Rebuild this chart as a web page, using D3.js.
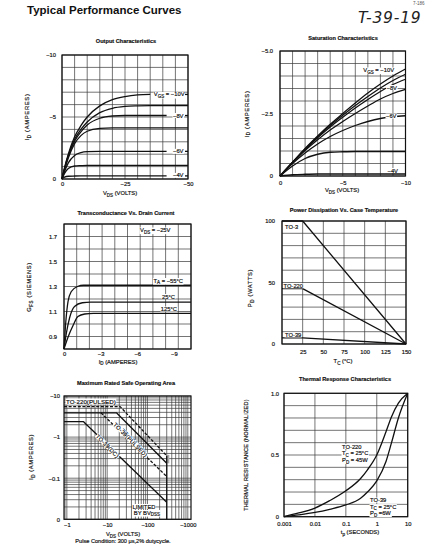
<!DOCTYPE html>
<html><head><meta charset="utf-8">
<script src="https://cdn.jsdelivr.net/npm/d3@7"></script>
<style>body{margin:0;background:#fff}svg{display:block}text{stroke:#111;stroke-width:0.18px}</style>
</head><body><svg id="c" width="432" height="555"></svg>
<script>
// ---------------- DATA ----------------
// Output characteristics (VDS in volts, negative)
const outVds   = [0, -1, -2.5, -5, -7.5, -10, -15, -20, -25, -30, -35, -41.5, -50];
const outVgs10 = [0, -0.9, -2.0, -3.4, -4.3, -5.0, -5.9, -6.4, -6.65, -6.78, -6.82, null, null];
const outVgs9  = [0, -0.85, -1.9, -3.2, -4.0, -4.6, -5.35, -5.7, -5.85, -5.9, -5.92, -5.92, -5.92];
const outVgs8  = [0, -0.8, -1.85, -3.05, -3.8, -4.35, -4.9, -5.08, -5.12, -5.12, -5.12, -5.12, null];
const outVgs7  = [0, -0.75, -1.7, -2.85, -3.5, -3.85, -4.08, -4.12, -4.12, -4.12, -4.12, -4.12, -4.12];
const outVgs6  = [0, -0.6, -1.3, -1.9, -2.12, -2.2, -2.23, -2.23, -2.23, -2.23, -2.23, -2.23, null];
const outVgs5  = [0, -0.45, -0.85, -1.05, -1.08, -1.1, -1.1, -1.1, -1.1, -1.1, -1.1, -1.1, -1.1];
const outVgs4  = [0, -0.15, -0.22, -0.24, -0.25, -0.25, -0.25, -0.25, -0.25, -0.25, -0.25, -0.25, null];
const outXTicks = [0, -25, -50];
const outYTicks = [0, -5, -10];
// Saturation characteristics
const satVds   = [0, -1, -2, -3, -4, -5, -6, -7, -8, -9, -10];
const satVgs10 = [0, -0.55, -1.1, -1.6, -2.07, -2.5, -2.92, -3.32, -3.68, -4.0, -4.28];
const satVgs9  = [0, -0.55, -1.08, -1.57, -2.02, -2.43, -2.82, -3.18, -3.52, -3.82, -4.07];
const satVgs8  = [0, -0.55, -1.06, -1.53, -1.96, -2.35, -2.72, -3.06, -3.38, -3.66, -3.87];
const satVgs7  = [0, -0.53, -1.02, -1.45, -1.84, -2.18, -2.5, -2.8, -3.08, -3.3, -3.47];
const satVgs6  = [0, -0.5, -0.92, -1.28, -1.58, -1.82, -2.02, -2.18, -2.3, -2.37, -2.41];
const satVgs5  = [0, -0.4, -0.7, -0.87, -0.95, -0.97, -0.98, -0.98, -0.98, -0.98, -0.98];
const satVgs4  = [0, -0.05, -0.07, -0.08, -0.08, -0.08, -0.08, -0.08, -0.08, -0.08, -0.08];
const satXTicks = [0, -5, -10];
const satYTicks = [0, -2.5, -5.0];
// Transconductance vs drain current (ID negative)
const gfsId55  = [0, -0.15, -0.33, -0.6, -1.1, -1.6, -10.4];
const gfs55    = [0.8, 1.02, 1.18, 1.26, 1.3, 1.31, 1.31];
const gfsId25  = [0, -0.2, -0.46, -0.86, -1.5, -2.2, -10.4];
const gfs25    = [0.8, 0.93, 1.05, 1.14, 1.17, 1.175, 1.175];
const gfsId125 = [0, -0.35, -0.75, -1.14, -1.7, -2.4, -10.4];
const gfs125   = [0.8, 0.9, 0.99, 1.06, 1.08, 1.085, 1.085];
const gfsXTicks = [0, -3, -6, -9];
const gfsYTicks = [0.9, 1.1, 1.3, 1.5, 1.7];
// Power dissipation vs case temperature
const pdTc    = [0, 25, 150];
const pdTo3   = [100, 100, 0];
const pdTo220 = [45, 45, 0];
const pdTo39  = [5, 5, 0];
const pdXTicks = [25, 50, 75, 100, 125, 150];
const pdYTicks = [0, 50, 100];
// Safe operating area (magnitudes, log axes)
const soaV220P = [0.85, 21, 300];  const soaI220P = [5.5, 5.5, 0.35];
const soaV220D = [0.85, 17, 300];  const soaI220D = [3.9, 3.9, 0.23];
const soaV39P  = [7, 300];         const soaI39P  = [3.9, 0.11];
const soaV39D  = [0.85, 2.6, 300]; const soaI39D  = [2.37, 2.37, 0.026];
const soaVbv   = [300, 300];       const soaIbv   = [0.01, 0.35];
const soaXTicks = [1, 10, 100, 1000];
const soaXLabels = ["\u22121", "\u221210", "\u2212100", "\u22121000"];
const soaYTicks = [0.01, 0.1, 1, 10];
const soaYLabels = ["0", "\u22120.1", "\u22121", "\u221210"];
// Thermal response
const thT     = [0.001, 0.003, 0.01, 0.03, 0.1, 0.3, 0.5, 1, 2, 3, 5, 10];
const thTo220 = [0, 0.03, 0.07, 0.13, 0.21, 0.31, 0.38, 0.5, 0.69, 0.81, 0.92, 1.0];
const thTo39  = [0, 0.015, 0.035, 0.06, 0.095, 0.15, 0.2, 0.29, 0.45, 0.6, 0.8, 1.0];
const thXTicks = [0.001, 0.01, 0.1, 1, 10];
const thXLabels = ["0.001", "0.01", "0.1", "1", "10"];
const thYTicks = [0, 0.5, 1.0];
const thYLabels = ["0", "0.5", "1.0"];

// ---------------- HELPERS ----------------
const FONT = '"Liberation Sans", Arial, Helvetica, sans-serif';
const INK = "#111";
const svg = d3.select("#c").style("font-family", FONT);
const negf = d => d === 0 ? "0" : "\u2212" + Math.abs(d);

function rich(g, x, y, s, o = {}) {
  const size = o.size || 5.8;
  const t = g.append("text").attr("x", x).attr("y", y).attr("font-size", size)
    .attr("text-anchor", o.anchor || "start").attr("font-weight", o.weight || "normal")
    .attr("fill", o.fill || INK).attr("font-family", o.family || FONT);
  if (o.rotate != null) t.attr("transform", `rotate(${o.rotate},${x},${y})`);
  if (o.ls != null) t.attr("letter-spacing", o.ls);
  if (o.style) t.attr("font-style", o.style);
  if (o.nostroke) t.style("stroke", "none");
  const tokens = s.split(/(_\{[^}]*\})/).filter(d => d.length);
  let pending = 0;
  tokens.forEach(tok => {
    const sub = tok.startsWith("_{");
    const str = sub ? tok.slice(2, -1) : tok;
    const sp = t.append("tspan").text(str);
    if (sub) { sp.attr("font-size", size * 0.78).attr("dy", pending + size * 0.28); pending = -size * 0.28; }
    else { if (pending) sp.attr("dy", pending); pending = 0; }
  });
  if (o.bg) {
    const b = t.node().getBBox();
    g.insert("rect", () => t.node()).attr("x", b.x - 0.5).attr("y", b.y + 0.5)
      .attr("width", b.width + 1).attr("height", b.height - 1).attr("fill", "#fff")
      .attr("transform", o.rotate != null ? `rotate(${o.rotate},${x},${y})` : null);
  }
  return t;
}

function frame(xs, ys, xg, yg) {
  const g = svg.append("g");
  const [x0, x1] = xs.range(), [y1, y0] = ys.range();
  g.append("g").selectAll("line").data(xg).join("line")
    .attr("x1", d => xs(d)).attr("x2", d => xs(d)).attr("y1", y0).attr("y2", y1)
    .attr("stroke", "#3a3a3a").attr("stroke-width", 0.7);
  g.append("g").selectAll("line").data(yg).join("line")
    .attr("y1", d => ys(d)).attr("y2", d => ys(d)).attr("x1", x0).attr("x2", x1)
    .attr("stroke", "#3a3a3a").attr("stroke-width", 0.7);
  g.append("rect").attr("x", x0).attr("y", y0).attr("width", x1 - x0).attr("height", y1 - y0)
    .attr("fill", "none").attr("stroke", INK).attr("stroke-width", 1.2);
  return g;
}

function axes(g, xs, ys, xt, xf, xp, yt, yf, yp) {
  const [x0] = xs.range(), [y1] = ys.range();
  const ax = g.append("g").attr("transform", `translate(0,${y1})`)
    .call(d3.axisBottom(xs).tickValues(xt).tickFormat(xf).tickSize(0).tickPadding(xp));
  const ay = g.append("g").attr("transform", `translate(${x0},0)`)
    .call(d3.axisLeft(ys).tickValues(yt).tickFormat(yf).tickSize(0).tickPadding(yp));
  [ax, ay].forEach(a => {
    a.select(".domain").remove();
    a.attr("font-size", 5.8).attr("font-family", FONT);
    a.selectAll("text").attr("fill", INK);
  });
}

function curve(g, xs, ys, xv, yv, o = {}) {
  const pts = xv.map((x, i) => [x, yv[i]]);
  const line = d3.line().defined(d => d[1] != null).x(d => xs(d[0])).y(d => ys(d[1]))
    .curve(o.straight ? d3.curveLinear : d3.curveMonotoneX);
  g.append("path").attr("d", line(pts)).attr("fill", "none").attr("stroke", INK)
    .attr("stroke-width", o.w || 1.3).attr("stroke-dasharray", o.dash || null)
    .attr("stroke-linejoin", "round");
}

function logGrid(lo, hi) {
  const v = [];
  for (let e = Math.floor(Math.log10(lo)); e <= Math.ceil(Math.log10(hi)); e++)
    for (let k = 1; k < 10; k++) { const x = k * Math.pow(10, e); if (x >= lo * 0.999 && x <= hi * 1.001) v.push(x); }
  return v;
}
function bar(g, xa, xb, y) {
  g.append("line").attr("x1", xa).attr("x2", xb).attr("y1", y).attr("y2", y).attr("stroke", INK).attr("stroke-width", 1.3);
}

// ---------------- HEADER ----------------
rich(svg, 27, 13.5, "Typical Performance Curves", { size: 11.5, weight: "bold", nostroke: true });
rich(svg, 358, 23, "T-39-19", { size: 15.5, ls: 0.8, fill: "#222", style: "italic", nostroke: true, family: '"DejaVu Sans", sans-serif' });
rich(svg, 413, 4.5, "7-186", { size: 4.5, fill: "#555", nostroke: true });

// ---------------- 1. OUTPUT CHARACTERISTICS ----------------
{
  const xs = d3.scaleLinear([0, -50], [62, 188]);
  const ys = d3.scaleLinear([0, -10], [179, 55]);
  const g = frame(xs, ys, d3.range(0, -50.1, -5), d3.range(0, -10.1, -1));
  [outVgs10, outVgs9, outVgs8, outVgs7, outVgs6, outVgs5, outVgs4].forEach(s => curve(g, xs, ys, outVds, s));
  axes(g, xs, ys, outXTicks, negf, 3, outYTicks, negf, 6);
  rich(g, 126, 43, "Output Characteristics", { size: 5.6, weight: "bold", anchor: "middle" });
  rich(g, 184.5, ys(-6.82) + 2, "V_{GS} = \u221210V", { size: 5.8, anchor: "end", bg: true });
  rich(g, 183.5, ys(-5.12) + 2, "\u22128V", { size: 5.8, anchor: "end", bg: true });
  rich(g, 183.5, ys(-2.23) + 2, "\u22126V", { size: 5.8, anchor: "end", bg: true });
  rich(g, 183.5, ys(-0.25) + 1.5, "\u22124V", { size: 5.8, anchor: "end", bg: true });
  [ys(-6.82), ys(-5.12), ys(-2.23), ys(-0.25)].forEach(y => bar(g, 185, 188, y));
  rich(g, 120, 195, "V_{DS} (VOLTS)", { size: 5.8, anchor: "middle" });
  rich(g, 29, 117, "I_{D} (AMPERES)", { size: 5.8, anchor: "middle", rotate: -90, ls: 0.7 });
}

// ---------------- 2. SATURATION CHARACTERISTICS ----------------
{
  const xs = d3.scaleLinear([0, -10], [280, 405.5]);
  const ys = d3.scaleLinear([0, -5], [176, 51]);
  const g = frame(xs, ys, d3.range(0, -10.01, -1), d3.range(0, -5.01, -0.5));
  [satVgs10, satVgs9, satVgs8, satVgs7, satVgs6, satVgs5, satVgs4].forEach(s => curve(g, xs, ys, satVds, s));
  axes(g, xs, ys, satXTicks, negf, 5, satYTicks, d => d === 0 ? "0" : "\u2212" + Math.abs(d).toFixed(1), 7);
  rich(g, 343, 40, "Saturation Characteristics", { size: 5.6, weight: "bold", anchor: "middle" });
  rich(g, 394, 72, "V_{GS} = \u221210V", { size: 5.8, anchor: "end", bg: true });
  rich(g, 397, 89.5, "\u22128V", { size: 5.8, anchor: "end", bg: true });
  rich(g, 396.5, 118, "\u22126V", { size: 5.8, anchor: "end", bg: true });
  rich(g, 398, 172.5, "\u22124V", { size: 5.8, anchor: "end", bg: true });
  rich(g, 342, 192, "V_{DS} (VOLTS)", { size: 5.8, anchor: "middle" });
  rich(g, 248.5, 114, "I_{D} (AMPERES)", { size: 5.8, anchor: "middle", rotate: -90, ls: 0.7 });
}

// ---------------- 3. TRANSCONDUCTANCE ----------------
{
  const xs = d3.scaleLinear([0, -10.4], [64, 191]);
  const ys = d3.scaleLinear([0.8, 1.8], [349, 224]);
  const g = frame(xs, ys, d3.range(0, 11).map(i => -i * 1.04), d3.range(0, 11).map(i => 0.8 + i * 0.1));
  curve(g, xs, ys, gfsId55, gfs55);
  curve(g, xs, ys, gfsId25, gfs25);
  curve(g, xs, ys, gfsId125, gfs125);
  axes(g, xs, ys, gfsXTicks, negf, 3, gfsYTicks, d3.format(".1f"), 7);
  rich(g, 126, 215, "Transconductance Vs. Drain Current", { size: 5.6, weight: "bold", anchor: "middle" });
  rich(g, 140, 232, "V_{DS} = \u221225V", { size: 5.8, bg: true });
  rich(g, 183, 282.5, "T_{A} = \u221255\u00b0C", { size: 5.8, anchor: "end", bg: true });
  rich(g, 175, 298.5, "25\u00b0C", { size: 5.8, anchor: "end", bg: true });
  rich(g, 177, 311, "125\u00b0C", { size: 5.8, anchor: "end", bg: true });
  rich(g, 118, 363.5, "I_{D} (AMPERES)", { size: 5.8, anchor: "middle" });
  rich(g, 31, 287, "G_{FS} (SIEMENS)", { size: 5.8, anchor: "middle", rotate: -90, ls: 0.6 });
}

// ---------------- 4. POWER DISSIPATION ----------------
{
  const xs = d3.scaleLinear([0, 150], [282, 406]);
  const ys = d3.scaleLinear([0, 100], [344, 221]);
  const g = frame(xs, ys, d3.range(0, 150.1, 25), d3.range(0, 100.1, 10));
  curve(g, xs, ys, pdTc, pdTo3, { straight: true });
  curve(g, xs, ys, pdTc, pdTo220, { straight: true });
  curve(g, xs, ys, pdTc, pdTo39, { straight: true });
  axes(g, xs, ys, pdXTicks, d3.format("d"), 6, pdYTicks, d3.format("d"), 7);
  rich(g, 344, 212, "Power Dissipation Vs. Case Temperature", { size: 5.6, weight: "bold", anchor: "middle" });
  rich(g, 285, ys(100) + 8, "TO-3", { size: 5.8, bg: true });
  rich(g, 283.5, ys(45) - 0.8, "TO-220", { size: 5.8, bg: true });
  rich(g, 285, ys(5) - 1, "TO-39", { size: 5.8, bg: true });
  rich(g, 343, 363, "T_{C} (\u00b0C)", { size: 5.8, anchor: "middle" });
  rich(g, 252, 288, "P_{D} (WATTS)", { size: 5.8, anchor: "middle", rotate: -90, ls: 0.6 });
}

// ---------------- 5. SAFE OPERATING AREA ----------------
{
  const xs = d3.scaleLog([0.85, 1200], [64, 191]);
  const ys = d3.scaleLog([0.01, 10], [519.3, 396]);
  const g = frame(xs, ys, logGrid(0.85, 1200), logGrid(0.01, 10));
  g.append("rect").attr("x", xs(300)).attr("y", ys(0.37)).attr("width", 2.6).attr("height", ys(0.23) - ys(0.37)).attr("fill", "#aaa");
  curve(g, xs, ys, soaV220P, soaI220P, { straight: true, dash: "3,1.6" });
  curve(g, xs, ys, soaV220D, soaI220D, { straight: true });
  curve(g, xs, ys, soaV39P, soaI39P, { straight: true, dash: "3,1.6" });
  curve(g, xs, ys, soaV39D, soaI39D, { straight: true });
  curve(g, xs, ys, soaVbv, soaIbv, { straight: true });
  axes(g, xs, ys, soaXTicks, (d, i) => soaXLabels[i], 4, soaYTicks, (d, i) => soaYLabels[i], 4);
  rich(g, 126, 385, "Maximum Rated Safe Operating Area", { size: 5.6, weight: "bold", anchor: "middle" });
  rich(g, 66, 404, "TO-220(PULSED)", { size: 6.2, bg: true });
  const ang = Math.atan2(ys(0.1) - ys(1), xs(10) - xs(1)) * 180 / Math.PI;
  rich(g, xs(42), ys(0.72), "TO-220(DC)", { size: 5.6, anchor: "middle", rotate: ang, ls: 0.3, bg: true });
  rich(g, xs(35), ys(0.79), "TO-39(PULSED)", { size: 5.6, anchor: "middle", rotate: ang, ls: 0.3, bg: true });
  rich(g, xs(9.4), ys(0.56), "TO-39(DC)", { size: 5.6, anchor: "middle", rotate: ang, ls: 0.3, bg: true });
  rich(g, 144, 508.5, "LIMITED", { size: 5.8, anchor: "middle", bg: true });
  rich(g, 147, 514.5, "BY BV_{DSS}", { size: 5.8, anchor: "middle", bg: true });
  rich(g, 123, 536, "V_{DS} (VOLTS)", { size: 5.8, anchor: "middle" });
  rich(g, 123, 543, "Pulse Condition: 300 \u03bcs,2% dutycycle.", { size: 5.6, anchor: "middle" });
  rich(g, 33, 457, "I_{D} (AMPERES)", { size: 5.8, anchor: "middle", rotate: -90, ls: 0.6 });
}

// ---------------- 6. THERMAL RESPONSE ----------------
{
  const xs = d3.scaleLog([0.001, 10], [284, 407.7]);
  const ys = d3.scaleLinear([0, 1], [516.7, 393.3]);
  const g = frame(xs, ys, thXTicks, d3.range(0, 11).map(i => i / 10));
  curve(g, xs, ys, thT, thTo220);
  curve(g, xs, ys, thT, thTo39);
  axes(g, xs, ys, thXTicks, (d, i) => thXLabels[i], 5, thYTicks, (d, i) => thYLabels[i], 5);
  rich(g, 345, 381, "Thermal Response Characteristics", { size: 5.6, weight: "bold", anchor: "middle" });
  rich(g, 342, 448.5, "TO-220", { size: 5.8, bg: true });
  rich(g, 342, 455.2, "T_{C} = 25\u00b0C", { size: 5.8, bg: true });
  rich(g, 342, 461.9, "P_{D} = 45W", { size: 5.8, bg: true });
  rich(g, 370, 502, "TO-39", { size: 5.8, bg: true });
  rich(g, 370, 508.6, "T_{C} = 25\u00b0C", { size: 5.8, bg: true });
  rich(g, 370, 515, "P_{D} =6W", { size: 5.8, bg: true });
  rich(g, 360, 534, "t_{p} (SECONDS)", { size: 5.8, anchor: "middle" });
  rich(g, 248, 455, "THERMAL RESISTANCE (NORMALIZED)", { size: 5.6, anchor: "middle", rotate: -90, ls: 0.2 });
}
</script></body></html>
